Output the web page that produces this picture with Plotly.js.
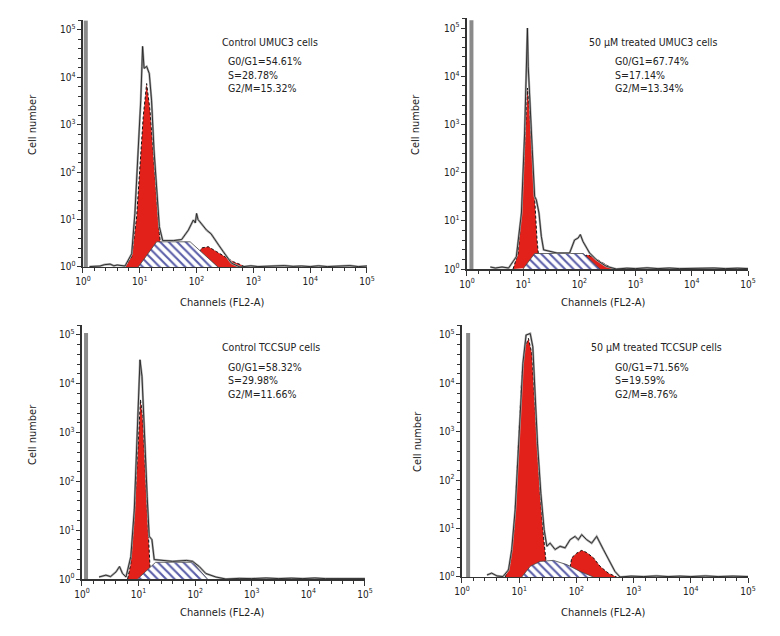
<!DOCTYPE html>
<html>
<head>
<meta charset="utf-8">
<script src="https://cdn.plot.ly/plotly-3.0.1.min.js"></script>
<style>
  body { margin: 0; background: #fff; }
  #plot { width: 780px; height: 636px; }
</style>
</head>
<body>
<div id="plot"></div>
<script>
// decade ticks shared by all panels
const decades = [1, 10, 100, 1000, 10000, 100000];
const decadeLabels = ["10<sup>0</sup>", "10<sup>1</sup>", "10<sup>2</sup>", "10<sup>3</sup>", "10<sup>4</sup>", "10<sup>5</sup>"];

const panelTitles = ["Control UMUC3 cells", "50 \u03bcM treated UMUC3 cells", "Control TCCSUP cells", "50 \u03bcM treated TCCSUP cells"];
const g1Text = ["G0/G1=54.61%", "G0/G1=67.74%", "G0/G1=58.32%", "G0/G1=71.56%"];
const sText = ["S=28.78%", "S=17.14%", "S=29.98%", "S=19.59%"];
const g2Text = ["G2/M=15.32%", "G2/M=13.34%", "G2/M=11.66%", "G2/M=8.76%"];

// ---- Control UMUC3 ----
const ctrlUmucSpikeX = [1.12, 1.12];
const ctrlUmucSpikeY = [1, 160000];
const ctrlUmucG1X = [5.5, 7.2, 8.8, 10.1, 11.5, 13.2, 15.1, 17.3, 19.8, 22.1, 25.9];
const ctrlUmucG1Y = [1, 1.65, 11.5, 130, 1480, 7400, 2050, 250, 26, 5.1, 1];
const ctrlUmucSX = [9.4, 19.8, 77, 238];
const ctrlUmucSY = [1, 3.4, 3.4, 1];
const ctrlUmucG2X = [100, 115, 123, 161, 226, 316, 443, 622, 710];
const ctrlUmucG2Y = [1, 2.2, 2.52, 2.68, 2.1, 1.65, 1.29, 1.1, 1];
const ctrlUmucHistX = [1.3, 2.0, 2.4, 3.0, 3.5, 4.0, 5.5, 7.2, 8.2, 9.4, 10.4, 10.9, 11.2, 11.9, 13.2, 14.7, 16.1, 17.8, 19.8, 22.1, 25.3, 38.9, 54.6, 71.6, 87.8, 95, 100, 106, 114, 150, 180, 210, 250, 295, 413, 580, 900, 1200, 1800, 2500, 3500, 5000, 7000, 10000, 14000, 20000, 30000, 50000, 70000, 100000];
const ctrlUmucHistY = [1.02, 1.05, 1.12, 1.15, 1.06, 1.1, 1.05, 1.9, 13.5, 295, 3300, 17000, 45000, 15500, 17000, 12000, 3300, 295, 36, 7.1, 3.6, 3.6, 3.8, 6.0, 9.8, 8.5, 13.5, 10, 9.0, 6.0, 5.0, 3.7, 2.8, 2.1, 1.2, 1.0, 1.06, 1.02, 1.04, 1.02, 1.07, 1.03, 1.05, 1.02, 1.06, 1.02, 1.04, 1.07, 1.02, 1.05];

// ---- 50 uM treated UMUC3 ----
const trtUmucSpikeX = [1.2, 1.2];
const trtUmucSpikeY = [1, 145000];
const trtUmucG1X = [6.6, 8.1, 9.3, 10.2, 11.1, 11.9, 13.0, 14.5, 16.2, 17.6, 19.6];
const trtUmucG1Y = [1, 2.1, 14.5, 135, 1480, 5700, 2030, 185, 20, 4.1, 1.1];
const trtUmucSX = [9.9, 16.0, 117, 233];
const trtUmucSY = [1, 2.1, 2.1, 1];
const trtUmucG2X = [90, 110, 125, 144, 190, 266, 350, 400];
const trtUmucG2Y = [1, 1.6, 1.9, 1.95, 1.67, 1.31, 1.06, 1];
const trtUmucHistX = [2.6, 3.2, 4.2, 5.5, 7.55, 9.3, 10.6, 11.4, 11.9, 12.3, 13.0, 14.5, 16.0, 17.1, 19.1, 21.0, 23.1, 40, 67, 82, 95, 104, 116, 152, 200, 300, 454, 700, 1000, 1600, 2500, 4000, 6000, 10000, 15000, 25000, 40000, 65000, 100000];
const trtUmucHistY = [1.1, 1.05, 1.1, 1.05, 1.8, 14.5, 660, 16000, 100000, 16000, 3250, 300, 32, 27.5, 14.5, 4.8, 2.5, 2.15, 2.15, 4.0, 4.4, 5.2, 3.7, 2.15, 1.56, 1.14, 1.0, 1.04, 1.02, 1.06, 1.02, 1.05, 1.02, 1.04, 1.02, 1.05, 1.02, 1.04, 1.02];

// ---- Control TCCSUP ----
const ctrlTccSpikeX = [1.18, 1.18];
const ctrlTccSpikeY = [1, 110000];
const ctrlTccG1X = [6.4, 7.3, 8.4, 9.2, 10.0, 10.8, 11.8, 12.8, 13.8, 15.0, 15.8, 16.5];
const ctrlTccG1Y = [1, 2.1, 19, 174, 1320, 4700, 2130, 277, 36, 5.5, 2.1, 1];
const ctrlTccSX = [9.6, 20, 90, 165];
const ctrlTccSY = [1, 2.2, 2.2, 1];
const ctrlTccHistX = [2.0, 2.65, 3.2, 4.0, 4.6, 5.2, 6.0, 7.3, 8.4, 9.2, 10.0, 10.6, 11.5, 12.1, 13.1, 14.2, 15.4, 17.2, 18.9, 40, 70, 90, 118, 154, 232, 348, 600, 1000, 1800, 3000, 5000, 8000, 13000, 20000, 40000, 100000];
const ctrlTccHistY = [1.1, 1.2, 1.12, 1.4, 1.8, 1.3, 1.1, 2.9, 26, 445, 8700, 31000, 14000, 4700, 445, 49, 7.5, 6.4, 2.5, 2.3, 2.4, 2.3, 1.8, 1.3, 1.1, 1.0, 1.03, 1.02, 1.05, 1.02, 1.04, 1.02, 1.05, 1.02, 1.03, 1.02];

// ---- 50 uM treated TCCSUP ----
const trtTccSpikeX = [1.28, 1.28];
const trtTccSpikeY = [1, 110000];
const trtTccG1X = [5.7, 7.0, 8.2, 9.1, 10.0, 11.1, 12.7, 14.5, 16.6, 18.3, 20.3, 23.2, 26.6, 29.2, 32.5];
const trtTccG1Y = [1, 1.95, 11, 120, 1290, 13800, 57000, 85000, 42000, 6300, 580, 54, 6.9, 2.3, 1];
const trtTccSX = [11.1, 15.6, 23.2, 39.6, 68, 116, 198];
const trtTccSY = [1, 1.66, 2.1, 2.2, 1.8, 1.3, 1];
const trtTccG2X = [72, 83, 101, 124, 151, 198, 259, 362, 505];
const trtTccG2Y = [1, 2.5, 3.1, 3.55, 3.2, 2.5, 1.66, 1.2, 1];
const trtTccHistX = [2.73, 3.3, 4.1, 5.2, 6.5, 7.4, 8.5, 9.5, 10.4, 11.6, 13.2, 15.6, 17.3, 19.0, 20.9, 23.9, 27.3, 30.4, 34.7, 42.4, 51.9, 63.4, 77.6, 94.8, 108, 124, 151, 185, 226, 296, 387, 472, 578, 900, 1500, 2500, 4000, 6500, 10000, 18000, 30000, 55000, 100000];
const trtTccHistY = [1.1, 1.2, 1.05, 1.02, 1.4, 3.7, 24.5, 263, 2800, 26000, 100000, 107000, 57000, 6300, 580, 54, 9.5, 4.3, 5.0, 3.7, 4.3, 4.0, 5.9, 6.9, 5.9, 7.5, 5.9, 5.0, 6.9, 3.7, 1.95, 1.3, 1.0, 1.04, 1.02, 1.05, 1.02, 1.04, 1.02, 1.05, 1.02, 1.04, 1.02];

const panels = [
  { sx: ctrlUmucSpikeX, sy: ctrlUmucSpikeY, g1x: ctrlUmucG1X, g1y: ctrlUmucG1Y, shx: ctrlUmucSX, shy: ctrlUmucSY, g2x: ctrlUmucG2X, g2y: ctrlUmucG2Y, hx: ctrlUmucHistX, hy: ctrlUmucHistY,
    xd: [0.1064, 0.4705], yd: [0.5802, 0.9678], tx: 220, ty: 42, st: 226, sty: 61, lx: 32, ly: 125, cx: 222, cy: 303 },
  { sx: trtUmucSpikeX, sy: trtUmucSpikeY, g1x: trtUmucG1X, g1y: trtUmucG1Y, shx: trtUmucSX, shy: trtUmucSY, g2x: trtUmucG2X, g2y: trtUmucG2Y, hx: trtUmucHistX, hy: trtUmucHistY,
    xd: [0.5987, 0.9590], yd: [0.5770, 0.9711], tx: 587, ty: 42, st: 613, sty: 61, lx: 415, ly: 125, cx: 603, cy: 303 },
  { sx: ctrlTccSpikeX, sy: ctrlTccSpikeY, g1x: ctrlTccG1X, g1y: ctrlTccG1Y, shx: ctrlTccSX, shy: ctrlTccSY, g2x: [], g2y: [], hx: ctrlTccHistX, hy: ctrlTccHistY,
    xd: [0.1051, 0.4679], yd: [0.0896, 0.4887], tx: 220, ty: 347, st: 226, sty: 367, lx: 32, ly: 435, cx: 222, cy: 612 },
  { sx: trtTccSpikeX, sy: trtTccSpikeY, g1x: trtTccG1X, g1y: trtTccG1Y, shx: trtTccSX, shy: trtTccSY, g2x: trtTccG2X, g2y: trtTccG2Y, hx: trtTccHistX, hy: trtTccHistY,
    xd: [0.5923, 0.9590], yd: [0.0928, 0.4885], tx: 589, ty: 347, st: 613, sty: 367, lx: 417, ly: 442, cx: 603, cy: 612 }
];

const FONT = "DejaVu Sans Condensed, Liberation Sans Narrow, sans-serif";
const RED = "#e3211b";

const traces = [];
const annotations = [];
const layout = {
  width: 780, height: 636,
  margin: { l: 0, r: 0, t: 0, b: 0 },
  paper_bgcolor: "#fff", plot_bgcolor: "#fff",
  showlegend: false,
  font: { family: FONT, size: 10, color: "#222" },
  annotations: annotations
};

panels.forEach((p, i) => {
  const xa = "x" + (i + 1), ya = "y" + (i + 1);
  const axKey = i === 0 ? "" : String(i + 1);

  // G0/G1 red peak with dashed model outline
  traces.push({ x: p.g1x, y: p.g1y, xaxis: xa, yaxis: ya, mode: "lines", fill: "toself",
    fillcolor: RED, line: { color: "#111", width: 1, dash: "3px,2px" }, hoverinfo: "skip" });
  // G2/M red peak
  if (p.g2x.length) {
    traces.push({ x: p.g2x, y: p.g2y, xaxis: xa, yaxis: ya, mode: "lines", fill: "toself",
      fillcolor: RED, line: { color: "#111", width: 1, dash: "3px,2px" }, hoverinfo: "skip" });
  }
  // S phase hatched area
  traces.push({ x: p.shx, y: p.shy, xaxis: xa, yaxis: ya, mode: "lines", fill: "toself",
    fillcolor: "#fff",
    fillpattern: { shape: "\\", fgcolor: "#5a5ea8", bgcolor: "#fff", size: 6, solidity: 0.35 },
    line: { color: "#444", width: 0.8 }, hoverinfo: "skip" });
  // debris spike at the low channel
  traces.push({ x: p.sx, y: p.sy, xaxis: xa, yaxis: ya, mode: "lines",
    line: { color: "#8a8a8a", width: 4 }, hoverinfo: "skip" });
  // raw histogram outline (double-stroked look)
  traces.push({ x: p.hx, y: p.hy, xaxis: xa, yaxis: ya, mode: "lines",
    line: { color: "#a8a8a8", width: 2.2 }, hoverinfo: "skip" });
  traces.push({ x: p.hx, y: p.hy, xaxis: xa, yaxis: ya, mode: "lines",
    line: { color: "#222", width: 0.9 }, hoverinfo: "skip" });

  layout["xaxis" + axKey] = {
    type: "log", range: [0, 5], domain: p.xd, anchor: ya,
    tickvals: decades, ticktext: decadeLabels, ticks: "outside", ticklen: 5, tickcolor: "#333",
    minor: { ticks: "outside", ticklen: 3, dtick: 0.2, tickcolor: "#333" },
    showline: true, linecolor: "#333", linewidth: 1.5, showgrid: false, zeroline: false,
    tickfont: { family: FONT, size: 10, color: "#222" }, fixedrange: true
  };
  layout["yaxis" + axKey] = {
    type: "log", range: [0, 5.2], domain: p.yd, anchor: xa,
    tickvals: decades, ticktext: decadeLabels, ticks: "outside", ticklen: 4, tickcolor: "#333",
    minor: { ticks: "outside", ticklen: 3, dtick: 0.2, tickcolor: "#333" },
    showline: true, linecolor: "#333", linewidth: 1.5, showgrid: false, zeroline: false,
    tickfont: { family: FONT, size: 10, color: "#222" }, fixedrange: true
  };

  const py = v => 1 - v / 636, px = v => v / 780;
  annotations.push({ xref: "paper", yref: "paper", x: px(p.tx), y: py(p.ty), xanchor: "left", yanchor: "middle",
    text: panelTitles[i], showarrow: false, font: { family: FONT, size: 10.5, color: "#222" } });
  [g1Text[i], sText[i], g2Text[i]].forEach((t, k) => {
    annotations.push({ xref: "paper", yref: "paper", x: px(p.st), y: py(p.sty + k * 13.5), xanchor: "left", yanchor: "middle",
      text: t, showarrow: false, font: { family: FONT, size: 10.5, color: "#222" } });
  });
  annotations.push({ xref: "paper", yref: "paper", x: px(p.lx), y: py(p.ly), xanchor: "center", yanchor: "middle",
    text: "Cell number", textangle: -90, showarrow: false, font: { family: FONT, size: 11, color: "#222" } });
  annotations.push({ xref: "paper", yref: "paper", x: px(p.cx), y: py(p.cy), xanchor: "center", yanchor: "middle",
    text: "Channels (FL2-A)", showarrow: false, font: { family: FONT, size: 11, color: "#222" } });
});

Plotly.newPlot("plot", traces, layout, { staticPlot: true, displayModeBar: false });
</script>
</body>
</html>
